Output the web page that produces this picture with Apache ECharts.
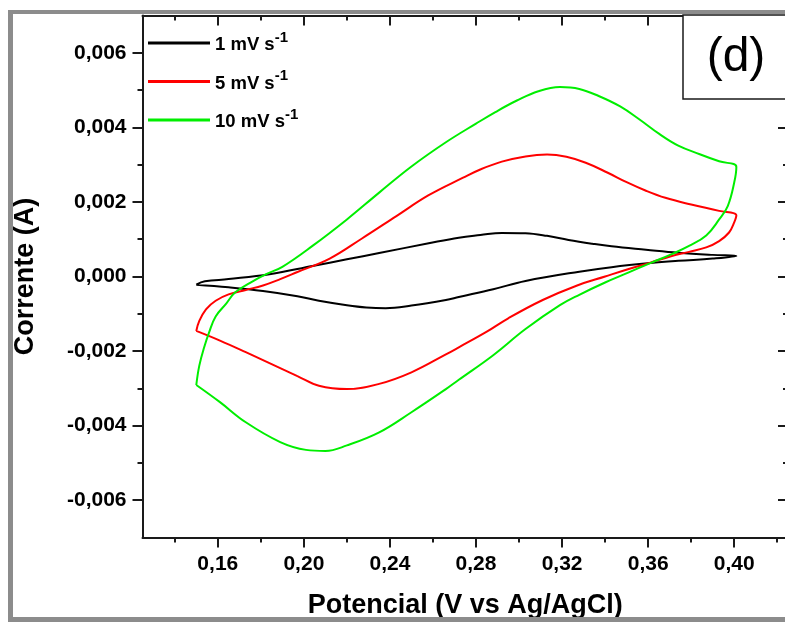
<!DOCTYPE html>
<html>
<head>
<meta charset="utf-8">
<script src="https://cdn.jsdelivr.net/npm/echarts@6/dist/echarts.min.js"></script>
<style>
html,body{margin:0;padding:0;background:#fff;}
#c{width:785px;height:622px;}
</style>
</head>
<body>
<div id="c"></div>
<script>
// ---- data ----
const seriesNames = ['1 mV s-1', '5 mV s-1', '10 mV s-1'];
const seriesColors = ['#000000', '#ff0000', '#00ee00'];

// 1 mV/s
const potential1 = [0.150,0.154,0.165,0.184,0.204,0.220,0.235,0.258,0.272,0.282,0.292,0.303,0.313,0.323,0.334,0.343,0.359,0.374,0.390,0.401,
  0.390,0.374,0.361,0.343,0.328,0.303,0.288,0.272,0.266,0.250,0.238,0.229,0.220,0.207,0.197,0.181,0.165,0.150];
const current1 = [-0.00022,-0.00013,-0.00007,0.00006,0.00028,0.00046,0.00063,0.00089,0.00104,0.00111,0.00117,0.00116,0.00109,0.00098,0.00088,0.00081,0.00072,0.00064,0.00058,0.00055,
  0.00048,0.00042,0.00036,0.00025,0.00013,-0.00012,-0.00034,-0.00055,-0.00063,-0.00078,-0.00085,-0.00083,-0.00077,-0.00065,-0.00053,-0.00039,-0.00029,-0.00022];

// 5 mV/s
const potential5 = [0.150,0.1514,0.1545,0.159,0.165,0.173,0.181,0.189,0.197,0.212,0.227,0.243,0.258,0.274,0.282,0.292,0.303,0.313,0.322,0.331,0.341,0.350,0.359,0.368,0.380,0.393,0.401,
  0.400,0.3976,0.393,0.387,0.379,0.371,0.361,0.351,0.340,0.327,0.311,0.295,0.285,0.272,0.266,0.250,0.235,0.220,0.207,0.197,0.185,0.173,0.161,0.150];
const current5 = [-0.00146,-0.00119,-0.00088,-0.00065,-0.00048,-0.00036,-0.00024,-0.00007,0.00012,0.00048,0.00102,0.00162,0.00218,0.00265,0.00287,0.00308,0.00322,0.00327,0.00321,0.00305,0.00279,0.00253,0.00230,0.00211,0.00193,0.00176,0.00164,
  0.00145,0.00118,0.00095,0.00078,0.00066,0.00055,0.00037,0.00020,0.00000,-0.00024,-0.00063,-0.00112,-0.00148,-0.00190,-0.00209,-0.00257,-0.00288,-0.00302,-0.00293,-0.00267,-0.00235,-0.00203,-0.00172,-0.00146];

// 10 mV/s
const potential10 = [0.150,0.1514,0.1537,0.156,0.159,0.164,0.168,0.175,0.182,0.190,0.204,0.220,0.235,0.250,0.266,0.280,0.289,0.299,0.309,0.319,0.328,0.337,0.347,0.356,0.365,0.374,0.384,0.393,0.401,
  0.400,0.397,0.393,0.387,0.379,0.371,0.361,0.351,0.340,0.328,0.319,0.303,0.288,0.272,0.266,0.250,0.235,0.220,0.210,0.201,0.189,0.173,0.161,0.150];
const current10 = [-0.00291,-0.00239,-0.00189,-0.00149,-0.00107,-0.00072,-0.00043,-0.00017,0.00005,0.00026,0.00082,0.00153,0.00225,0.00295,0.00360,0.00410,0.00441,0.00472,0.00497,0.00508,0.00503,0.00484,0.00456,0.00421,0.00383,0.00351,0.00328,0.00309,0.00294,
  0.00252,0.00189,0.00153,0.00110,0.00082,0.00060,0.00036,0.00011,-0.00016,-0.00049,-0.00077,-0.00141,-0.00211,-0.00277,-0.00302,-0.00364,-0.00418,-0.00453,-0.00468,-0.00465,-0.00444,-0.00391,-0.00337,-0.00291];

const xMajorTicks = [0.16,0.20,0.24,0.28,0.32,0.36,0.40];
const xMinorTicks = [0.14,0.18,0.22,0.26,0.30,0.34,0.38,0.42];
const yMajorTicks = [-0.006,-0.004,-0.002,0,0.002,0.004,0.006];
const yMinorTicks = [-0.005,-0.003,-0.001,0.001,0.003,0.005];

const xTitle = 'Potencial (V vs Ag/AgCl)';
const yTitle = 'Corrente (A)';
const panelLabel = '(d)';

// ---- chart ----
const FONT = 'Liberation Sans, Arial, sans-serif';
const pairs = (xs, ys) => xs.map((x, i) => [x, ys[i]]);
const allPotentials = [potential1, potential5, potential10];
const allCurrents = [current1, current5, current10];

const gridRect = {left: 142.5, top: 15.5, width: 645.5, height: 522, outerBoundsMode: 'none', containLabel: false};
const axisLineStyle = {color: '#1a1a1a', width: 2};
const tickStyle = {color: '#1a1a1a', width: 2};

function xAx(grid, pos, ticks, len, inside, showLine, label) {
  return {
    type: 'value', gridIndex: grid, position: pos, min: 0.125, max: 0.425,
    axisLine: {show: showLine, onZero: false, lineStyle: axisLineStyle},
    axisTick: {show: true, inside: inside, length: len, customValues: ticks, lineStyle: tickStyle},
    axisLabel: label ? {show: true, customValues: ticks, margin: 16, fontSize: 21, fontWeight: 'bold', fontFamily: FONT, color: '#000',
      formatter: v => v.toFixed(2).replace('.', ',')} : {show: false},
    splitLine: {show: false}
  };
}
function yAx(grid, pos, ticks, len, inside, showLine, label) {
  return {
    type: 'value', gridIndex: grid, position: pos, min: -0.007, max: 0.007,
    axisLine: {show: showLine, onZero: false, lineStyle: axisLineStyle},
    axisTick: {show: true, inside: inside, length: len, customValues: ticks, lineStyle: tickStyle},
    axisLabel: label ? {show: true, customValues: ticks, margin: 16, fontSize: 21, fontWeight: 'bold', fontFamily: FONT, color: '#000',
      formatter: v => (Math.abs(v) < 1e-9 ? 0 : v).toFixed(3).replace('.', ',')} : {show: false},
    splitLine: {show: false}
  };
}

const xAxes = [
  xAx(0, 'bottom', xMajorTicks, 10, false, true, true),
  xAx(0, 'top', xMajorTicks, 10, true, true, false),
  xAx(1, 'bottom', xMinorTicks, 5, false, false, false),
  xAx(1, 'top', xMinorTicks, 5, true, false, false)
];
Object.assign(xAxes[0], {name: xTitle, nameLocation: 'middle', nameGap: 55,
  nameTextStyle: {fontSize: 27, fontWeight: 'bold', fontFamily: FONT, color: '#000'}});
const yAxes = [
  yAx(0, 'left', yMajorTicks, 10, false, true, true),
  yAx(0, 'right', yMajorTicks, 10, true, true, false),
  yAx(1, 'left', yMinorTicks, 5, false, false, false),
  yAx(1, 'right', yMinorTicks, 5, true, false, false)
];
Object.assign(yAxes[0], {name: yTitle, nameLocation: 'middle', nameGap: 103, nameRotate: 90,
  nameTextStyle: {fontSize: 27, fontWeight: 'bold', fontFamily: FONT, color: '#000'}});

const option = {
  animation: false,
  backgroundColor: '#ffffff',
  grid: [Object.assign({}, gridRect), Object.assign({}, gridRect)],
  xAxis: xAxes,
  yAxis: yAxes,
  legend: {
    orient: 'vertical', left: 148, top: 30, padding: 0, itemWidth: 62, itemHeight: 3, itemGap: 14, icon: 'rect',
    data: seriesNames,
    formatter: name => '{b|' + name.replace(/-1$/, '') + '}{s|-1}',
    textStyle: {
      rich: {
        b: {fontSize: 18.5, fontWeight: 'bold', fontFamily: FONT, color: '#000', lineHeight: 26, padding: [4, 0, 0, 0]},
        s: {fontSize: 15, fontWeight: 'bold', fontFamily: FONT, color: '#000', lineHeight: 15, verticalAlign: 'top'}
      }
    }
  },
  series: seriesNames.map((n, k) => ({
    name: n, type: 'line', xAxisIndex: 0, yAxisIndex: 0,
    data: pairs(allPotentials[k], allCurrents[k]),
    showSymbol: false, smooth: 0.4, color: seriesColors[k],
    lineStyle: {width: 2, color: seriesColors[k]}
  })),
  graphic: [
    {type: 'rect', shape: {x: 8, y: 10, width: 5, height: 612}, style: {fill: '#8c8c8c'}, z: 100},
    {type: 'rect', shape: {x: 8, y: 10, width: 777, height: 4}, style: {fill: '#8c8c8c'}, z: 100},
    {type: 'rect', shape: {x: 8, y: 617, width: 777, height: 5}, style: {fill: '#8c8c8c'}, z: 100},
    {type: 'rect', shape: {x: 683, y: 15, width: 110, height: 84}, style: {fill: '#fff', stroke: '#1a1a1a', lineWidth: 1.5}, z: 100},
    {type: 'text', x: 736, y: 58, style: {text: panelLabel, font: '48px ' + FONT, fill: '#000', textAlign: 'center', textVerticalAlign: 'middle'}, z: 101}
  ]
};

const chart = echarts.init(document.getElementById('c'), null, {renderer: 'canvas'});
chart.setOption(option);
</script>
</body>
</html>
